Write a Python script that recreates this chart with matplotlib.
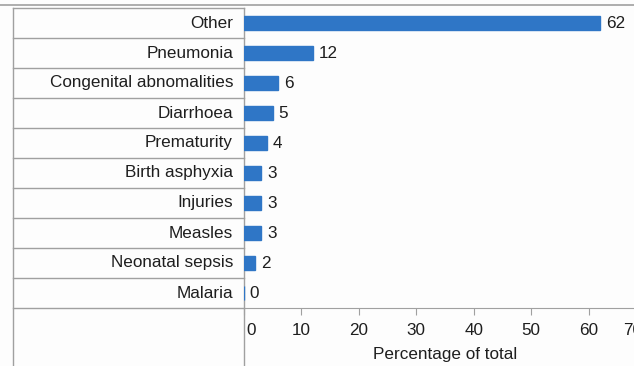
import matplotlib.pyplot as plt
from matplotlib.transforms import blended_transform_factory, ScaledTranslation

causes = ['Other', 'Pneumonia', 'Congenital abnomalities', 'Diarrhoea', 'Prematurity',
          'Birth asphyxia', 'Injuries', 'Measles', 'Neonatal sepsis', 'Malaria']
percent = [62, 12, 6, 5, 4, 3, 3, 3, 2, 0]
xticks = [0, 10, 20, 30, 40, 50, 60, 70]

plt.rcParams['font.family'] = ['Liberation Sans', 'DejaVu Sans']
bar_color = '#2F76C6'
grid_color = '#a0a0a0'
text_color = '#1e1e1e'
fs = 12.3

fig = plt.figure(figsize=(6.34, 3.66), dpi=100, facecolor='#fdfdfd')
ax = fig.add_axes([244 / 634, 58 / 366, 402 / 634, 300 / 366])
ax.set_facecolor('#fdfdfd')

y = list(range(len(causes)))
ax.barh(y, percent, height=0.47, color=bar_color, edgecolor=bar_color,
        linewidth=1.0, zorder=3)
for yi, v in zip(y, percent):
    ax.text(v + 1.0, yi, str(v), va='center', ha='left', fontsize=fs, color=text_color)

ax.set_xlim(0, 70)
ax.set_ylim(len(causes) - 0.5, -0.5)
ax.set_yticks([])
ax.set_xticks(xticks)
ax.tick_params(axis='x', length=5, color=grid_color, labelsize=fs, labelcolor=text_color, pad=6)
labels = ax.get_xticklabels()
labels[0].set_transform(labels[0].get_transform() + ScaledTranslation(7 / 100, 0, fig.dpi_scale_trans))
labels[-1].set_transform(labels[-1].get_transform() + ScaledTranslation(-13 / 100, 0, fig.dpi_scale_trans))
ax.set_xlabel('Percentage of total', fontsize=fs, color=text_color, labelpad=6)

for s in ['top', 'right', 'left']:
    ax.spines[s].set_visible(False)
ax.spines['bottom'].set_color(grid_color)

# label table to the left of the bars
tr = blended_transform_factory(ax.transAxes, ax.transData)
left = -231 / 402
for yi in y:
    ax.text(-11 / 402, yi, causes[yi], transform=tr, ha='right', va='center',
            fontsize=fs, color=text_color)
for k in range(len(causes) + 1):
    ax.plot([left, 0], [k - 0.5, k - 0.5], transform=tr, color=grid_color,
            lw=1, clip_on=False, zorder=2)
for xv in [left, 0]:
    ax.plot([xv, xv], [1, -0.25], transform=ax.transAxes, color=grid_color,
            lw=1, clip_on=False, zorder=2)

fig.add_artist(plt.Line2D([0, 1], [1 - 5 / 366, 1 - 5 / 366], color=grid_color, lw=1.2))

fig.savefig('out.png', dpi=100, facecolor=fig.get_facecolor())
